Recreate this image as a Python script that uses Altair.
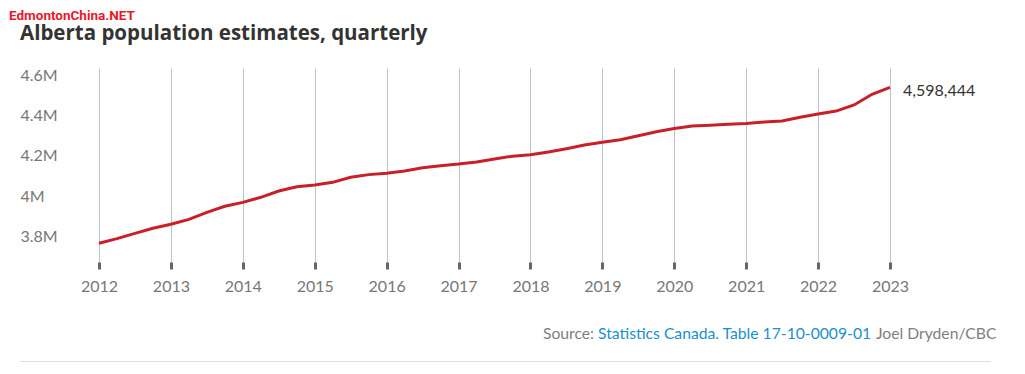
import altair as alt
import pandas as pd

# Quarterly Alberta population
quarters = [2012 + 0.25 * i for i in range(45)]
population = [
    3769000, 3792000, 3818000, 3843000,
    3863000, 3887000, 3922000, 3952000,
    3971000, 3996000, 4027000, 4048000,
    4057000, 4070000, 4095000, 4108000,
    4115000, 4126000, 4142000, 4152000,
    4160000, 4170000, 4185000, 4199000,
    4206000, 4220000, 4236000, 4254000,
    4268000, 4280000, 4300000, 4320000,
    4336000, 4348000, 4352000, 4357000,
    4361000, 4368000, 4373000, 4391000,
    4407000, 4422000, 4452000, 4505000,
    4539000,
]
year_ticks = list(range(2012, 2024))
y_ticks = [3800000, 4000000, 4200000, 4400000, 4600000]
end_label = "4,598,444"

title_text = "Alberta population estimates, quarterly"
watermark_text = "EdmontonChina.NET"
source_parts = ["Source:", "Statistics Canada. Table 17-10-0009-01", "Joel Dryden/CBC"]

df = pd.DataFrame({"t": quarters, "pop": population})
df_end = pd.DataFrame({"t": [quarters[-1]], "pop": [population[-1]], "label": [end_label]})

FONT = "Lato"

x_scale = alt.Scale(domain=[2012, 2023], nice=False, zero=False)
y_scale = alt.Scale(domain=[3676500, 4634600], nice=False, zero=False)

line = alt.Chart(df).mark_line(color="#c8202a", strokeWidth=3).encode(
    x=alt.X("t:Q", scale=x_scale, title=None,
            axis=alt.Axis(values=year_ticks, format="d", grid=True, gridColor="#b9c3ca",
                          gridWidth=1, domain=False, tickColor="#666666", tickWidth=3,
                          tickSize=7, labelPadding=9, labelFont=FONT, labelFontSize=16,
                          labelColor="#777777", labelFlush=False, labelOverlap=False)),
    y=alt.Y("pop:Q", scale=y_scale, title=None,
            axis=alt.Axis(values=y_ticks, labelExpr="format(datum.value/1e6, '~g') + 'M'",
                          grid=False, domain=False, ticks=False, tickSize=0,
                          labelAlign="left", labelPadding=79, labelFont=FONT,
                          labelFontSize=16, labelColor="#777777")),
)

end_text = alt.Chart(df_end).mark_text(
    align="left", baseline="middle", dx=13, dy=4, font=FONT, fontSize=16, color="#333333"
).encode(x=alt.X("t:Q", scale=x_scale), y=alt.Y("pop:Q", scale=y_scale), text="label:N")

one = pd.DataFrame({"a": [0]})

watermark = alt.Chart(one).mark_text(
    align="left", baseline="alphabetic", font="Roboto", fontWeight="bold",
    fontSize=13.5, color="#e8192c"
).encode(x=alt.value(-90), y=alt.value(-48), text=alt.value(watermark_text))

title = alt.Chart(one).mark_text(
    align="left", baseline="alphabetic", font="Open Sans", fontWeight="bold",
    fontSize=20.5, color="#333333"
).encode(x=alt.value(-79), y=alt.value(-28), text=alt.value(title_text))

SRC = 15.7
src1 = alt.Chart(one).mark_text(
    align="left", baseline="alphabetic", font=FONT, fontSize=SRC, color="#808080"
).encode(x=alt.value(444), y=alt.value(271), text=alt.value(source_parts[0]))
src2 = alt.Chart(one).mark_text(
    align="left", baseline="alphabetic", font=FONT, fontSize=SRC, color="#1a8fd0"
).encode(x=alt.value(499), y=alt.value(271), text=alt.value(source_parts[1]))
src3 = alt.Chart(one).mark_text(
    align="left", baseline="alphabetic", font=FONT, fontSize=SRC, color="#808080"
).encode(x=alt.value(777), y=alt.value(271), text=alt.value(source_parts[2]))

bottom_rule = alt.Chart(one).mark_rule(color="#dddddd", strokeWidth=1).encode(
    x=alt.value(-79), x2=alt.value(892), y=alt.value(293.5)
)

chart = alt.layer(line, end_text, watermark, title, src1, src2, src3, bottom_rule).properties(
    width=791, height=194,
    autosize=alt.AutoSizeParams(type="none"),
    padding={"left": 91, "top": 60, "right": 127, "bottom": 104},
).configure_view(stroke=None)

chart.save("out.html", embed_options={"renderer": "svg", "actions": False})
